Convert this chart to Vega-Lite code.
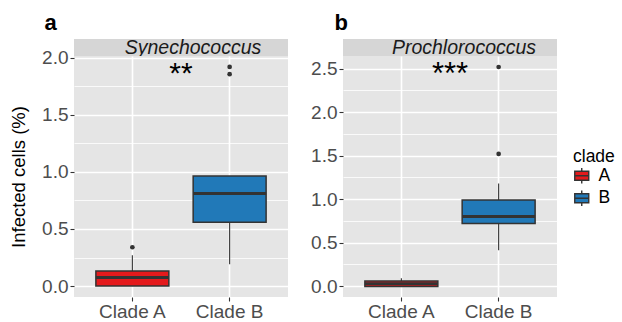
{
  "$schema": "https://vega.github.io/schema/vega-lite/v6.json",
  "padding": {"left": 9, "top": 12, "right": 0, "bottom": 0},
  "background": "white",
  "datasets": {
    "boxes": [
      {"panel": "a", "clade": "A", "label": "Clade A", "lo": 0.0, "q1": 0.0, "med": 0.074, "q3": 0.132, "hi": 0.27},
      {"panel": "a", "clade": "B", "label": "Clade B", "lo": 0.19, "q1": 0.56, "med": 0.81, "q3": 0.965, "hi": 0.965},
      {"panel": "b", "clade": "A", "label": "Clade A", "lo": 0.0, "q1": -0.006, "med": 0.026, "q3": 0.058, "hi": 0.09},
      {"panel": "b", "clade": "B", "label": "Clade B", "lo": 0.41, "q1": 0.718, "med": 0.80, "q3": 0.99, "hi": 1.18}
    ],
    "outliers": [
      {"panel": "a", "clade": "A", "label": "Clade A", "value": 0.34},
      {"panel": "a", "clade": "B", "label": "Clade B", "value": 1.857},
      {"panel": "a", "clade": "B", "label": "Clade B", "value": 1.92},
      {"panel": "b", "clade": "B", "label": "Clade B", "value": 1.52},
      {"panel": "b", "clade": "B", "label": "Clade B", "value": 2.52}
    ],
    "stars": [
      {"panel": "a", "label": "**", "y": 1.78},
      {"panel": "b", "label": "***", "y": 2.33}
    ],
    "strips": [
      {"panel": "a", "strip": "Synechococcus"},
      {"panel": "b", "strip": "Prochlorococcus"}
    ]
  },
  "config": {
    "font": "Liberation Sans",
    "axis": {
      "labelFont": "Liberation Sans",
      "labelFontSize": 19,
      "labelColor": "#4D4D4D",
      "tickColor": "#333333",
      "tickSize": 4,
      "tickWidth": 1.1,
      "domain": false,
      "gridColor": "#FFFFFF",
      "titleFont": "Liberation Sans",
      "titleFontWeight": "normal",
      "titleColor": "#000000",
      "titleFontSize": 18.5
    },
    "legend": {
      "titleFont": "Liberation Sans",
      "labelFont": "Liberation Sans"
    },
    "title": {"font": "Liberation Sans"}
  },
  "spacing": 22,
  "hconcat": [
    {
      "title": {"text": "a", "anchor": "start", "dx": 35, "fontSize": 22, "fontWeight": "bold", "color": "#000000", "offset": 3},
      "spacing": 0,
      "bounds": "flush",
      "vconcat": [
        {
          "width": 214, "height": 17,
          "view": {"fill": "#D6D6D6", "stroke": null},
          "data": {"name": "strips"},
          "transform": [{"filter": "datum.panel === 'a'"}],
          "mark": {"type": "text", "fontStyle": "italic", "fontSize": 19.5, "color": "#1A1A1A", "dx": 12, "dy": 0.5, "baseline": "middle"},
          "encoding": {"text": {"field": "strip"}}
        },
        {
          "width": 214, "height": 241,
          "view": {"fill": "#E5E5E5", "stroke": null},
          "resolve": {"axis": {"y": "independent"}},
          "layer": [
            {
              "data": {"name": "boxes"},
              "transform": [{"filter": "datum.panel === 'a'"}],
              "mark": {"type": "rule", "color": "#333333", "strokeWidth": 1.1},
              "encoding": {
                "x": {"field": "label", "type": "nominal", "scale": {"domain": ["Clade A", "Clade B"], "paddingInner": 0.25, "paddingOuter": 0.225}, "axis": {"title": null, "grid": true, "gridWidth": 1.6, "bandPosition": 0.5, "labelAngle": 0, "labelPadding": 1}},
                "y": {"field": "lo", "type": "quantitative", "scale": {"domain": [-0.096, 2.016], "nice": false, "zero": false}, "axis": {"orient": "left", "values": [0, 0.5, 1, 1.5, 2], "format": ".1f", "grid": true, "gridWidth": 1.6, "title": "Infected cells (%)", "titlePadding": 13, "labelPadding": 2}},
                "y2": {"field": "hi"}
              }
            },
            {
              "data": {"name": "boxes"},
              "transform": [{"filter": "datum.panel === 'a'"}],
              "mark": {"type": "bar", "stroke": "#333333", "strokeWidth": 1.5},
              "encoding": {
                "x": {"field": "label", "type": "nominal"},
                "y": {"field": "q1", "type": "quantitative", "axis": {"orient": "right", "values": [0.25, 0.75, 1.25, 1.75], "grid": true, "gridWidth": 0.8, "labels": false, "ticks": false, "domain": false, "title": null}},
                "y2": {"field": "q3"},
                "fill": {"field": "clade", "type": "nominal", "scale": {"domain": ["A", "B"], "range": ["#E41A1C", "#2179B8"]}, "legend": {"title": "clade", "orient": "none", "legendX": 499, "legendY": 108.5, "titleFontSize": 17.5, "titleFontWeight": "normal", "titleColor": "#000000", "titlePadding": 2, "labelFontSize": 17.5, "labelColor": "#000000", "labelOffset": 8, "rowPadding": 0.5, "symbolSize": 196, "symbolType": "M-1,-0.64H1V0.64H-1Z M-1,0H1 M0,-0.64V-1.1 M0,0.64V1.1", "symbolStrokeColor": "#333333", "symbolStrokeWidth": 1.4, "symbolOpacity": 1}}
              }
            },
            {
              "data": {"name": "boxes"},
              "transform": [{"filter": "datum.panel === 'a'"}],
              "mark": {"type": "tick", "color": "#333333", "thickness": 3, "size": 73, "opacity": 1},
              "encoding": {
                "x": {"field": "label", "type": "nominal"},
                "y": {"field": "med", "type": "quantitative", "axis": null}
              }
            },
            {
              "data": {"name": "outliers"},
              "transform": [{"filter": "datum.panel === 'a'"}],
              "mark": {"type": "circle", "color": "#333333", "size": 22, "opacity": 1},
              "encoding": {
                "x": {"field": "label", "type": "nominal"},
                "y": {"field": "value", "type": "quantitative", "axis": null}
              }
            },
            {
              "data": {"name": "stars"},
              "transform": [{"filter": "datum.panel === 'a'"}],
              "mark": {"type": "text", "fontSize": 30, "color": "#000000", "baseline": "alphabetic"},
              "encoding": {
                "y": {"field": "y", "type": "quantitative", "axis": null},
                "text": {"field": "label"}
              }
            }
          ]
        }
      ]
    },
    {
      "title": {"text": "b", "anchor": "start", "dx": 24, "fontSize": 22, "fontWeight": "bold", "color": "#000000", "offset": 3},
      "spacing": 0,
      "bounds": "flush",
      "vconcat": [
        {
          "width": 214, "height": 17,
          "view": {"fill": "#D6D6D6", "stroke": null},
          "data": {"name": "strips"},
          "transform": [{"filter": "datum.panel === 'b'"}],
          "mark": {"type": "text", "fontStyle": "italic", "fontSize": 19.5, "color": "#1A1A1A", "dx": 14, "dy": 0.5, "baseline": "middle"},
          "encoding": {"text": {"field": "strip"}}
        },
        {
          "width": 214, "height": 241,
          "view": {"fill": "#E5E5E5", "stroke": null},
          "resolve": {"axis": {"y": "independent"}},
          "layer": [
            {
              "data": {"name": "boxes"},
              "transform": [{"filter": "datum.panel === 'b'"}],
              "mark": {"type": "rule", "color": "#333333", "strokeWidth": 1.1},
              "encoding": {
                "x": {"field": "label", "type": "nominal", "scale": {"domain": ["Clade A", "Clade B"], "paddingInner": 0.25, "paddingOuter": 0.225}, "axis": {"title": null, "grid": true, "gridWidth": 1.6, "bandPosition": 0.5, "labelAngle": 0, "labelPadding": 1}},
                "y": {"field": "lo", "type": "quantitative", "scale": {"domain": [-0.1265, 2.6465], "nice": false, "zero": false}, "axis": {"orient": "left", "values": [0, 0.5, 1, 1.5, 2, 2.5], "format": ".1f", "grid": true, "gridWidth": 1.6, "title": null, "labelPadding": 2}},
                "y2": {"field": "hi"}
              }
            },
            {
              "data": {"name": "boxes"},
              "transform": [{"filter": "datum.panel === 'b'"}],
              "mark": {"type": "bar", "stroke": "#333333", "strokeWidth": 1.5},
              "encoding": {
                "x": {"field": "label", "type": "nominal"},
                "y": {"field": "q1", "type": "quantitative", "axis": {"orient": "right", "values": [0.25, 0.75, 1.25, 1.75, 2.25], "grid": true, "gridWidth": 0.8, "labels": false, "ticks": false, "domain": false, "title": null}},
                "y2": {"field": "q3"},
                "fill": {"field": "clade", "type": "nominal", "scale": {"domain": ["A", "B"], "range": ["#E41A1C", "#2179B8"]}, "legend": {"title": "clade", "orient": "none", "legendX": 499, "legendY": 108.5, "titleFontSize": 17.5, "titleFontWeight": "normal", "titleColor": "#000000", "titlePadding": 2, "labelFontSize": 17.5, "labelColor": "#000000", "labelOffset": 8, "rowPadding": 0.5, "symbolSize": 196, "symbolType": "M-1,-0.64H1V0.64H-1Z M-1,0H1 M0,-0.64V-1.1 M0,0.64V1.1", "symbolStrokeColor": "#333333", "symbolStrokeWidth": 1.4, "symbolOpacity": 1}}
              }
            },
            {
              "data": {"name": "boxes"},
              "transform": [{"filter": "datum.panel === 'b'"}],
              "mark": {"type": "tick", "color": "#333333", "thickness": 3, "size": 73, "opacity": 1},
              "encoding": {
                "x": {"field": "label", "type": "nominal"},
                "y": {"field": "med", "type": "quantitative", "axis": null}
              }
            },
            {
              "data": {"name": "outliers"},
              "transform": [{"filter": "datum.panel === 'b'"}],
              "mark": {"type": "circle", "color": "#333333", "size": 22, "opacity": 1},
              "encoding": {
                "x": {"field": "label", "type": "nominal"},
                "y": {"field": "value", "type": "quantitative", "axis": null}
              }
            },
            {
              "data": {"name": "stars"},
              "transform": [{"filter": "datum.panel === 'b'"}],
              "mark": {"type": "text", "fontSize": 31, "color": "#000000", "baseline": "alphabetic"},
              "encoding": {
                "y": {"field": "y", "type": "quantitative", "axis": null},
                "text": {"field": "label"}
              }
            }
          ]
        }
      ]
    }
  ]
}
